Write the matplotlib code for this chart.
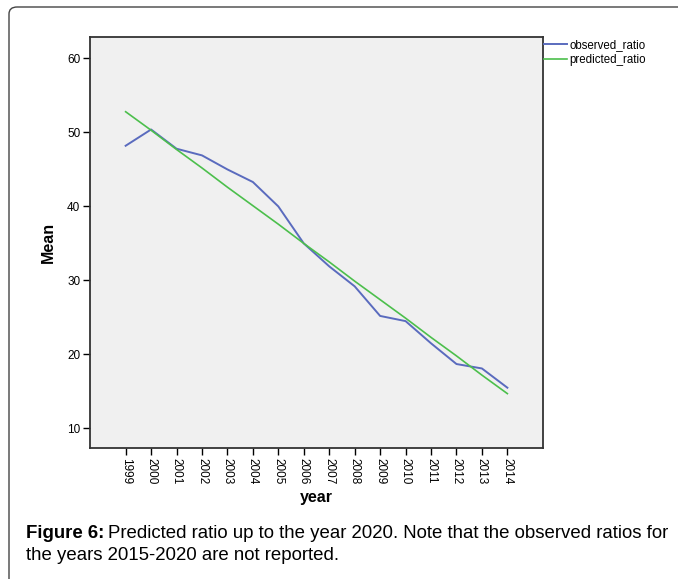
import matplotlib
matplotlib.use("Agg")
import matplotlib.pyplot as plt
from matplotlib.patches import FancyBboxPatch

plt.rcParams['font.family'] = ['Liberation Sans', 'DejaVu Sans']

# data
years = [1999, 2000, 2001, 2002, 2003, 2004, 2005, 2006,
         2007, 2008, 2009, 2010, 2011, 2012, 2013, 2014]
observed_ratio = [48.2, 50.4, 47.8, 46.9, 45.0, 43.3, 40.0, 35.0,
                  31.9, 29.2, 25.2, 24.5, 21.5, 18.7, 18.1, 15.5]
predicted_ratio = [52.8, 50.3, 47.7, 45.2, 42.6, 40.1, 37.6, 35.0,
                   32.5, 29.9, 27.4, 24.9, 22.3, 19.8, 17.2, 14.7]
y_ticks = [10, 20, 30, 40, 50, 60]

W, H = 678, 579
fig = plt.figure(figsize=(W / 100, H / 100), dpi=100)

# rounded frame round the figure
frame = FancyBboxPatch((9 / W, -0.05), 1.0, 1.05 - 7 / H,
                       boxstyle="round,pad=0,rounding_size=0.012",
                       transform=fig.transFigure, fill=False,
                       edgecolor="#444444", linewidth=1.0)
fig.patches.append(frame)

ax = fig.add_axes([90 / W, 1 - 448 / H, 453 / W, 411 / H])
ax.set_facecolor("#F0F0F0")

ax.plot(years, observed_ratio, color="#5A6BBE", linewidth=1.4, label="observed_ratio")
ax.plot(years, predicted_ratio, color="#4CBF4C", linewidth=1.2, label="predicted_ratio")

ax.set_xlim(1997.6, 2015.4)
ax.set_ylim(7.35, 62.9)
ax.set_xticks(years)
ax.set_xticklabels([str(y) for y in years], rotation=-90, fontsize=8.5)
ax.set_yticks(y_ticks)
ax.set_yticklabels([str(v) for v in y_ticks], fontsize=8.5)
ax.tick_params(direction="out", length=5, width=1, color="black", pad=2)

for s in ax.spines.values():
    s.set_color("#333333")
    s.set_linewidth(1.3)

ax.set_xlabel("year", fontsize=11.5, fontweight="bold", labelpad=4)
ax.set_ylabel("Mean", fontsize=11.5, fontweight="bold", labelpad=8)

fig.legend(loc="upper left", bbox_to_anchor=(544 / W, 1 - 39 / H),
           frameon=False, fontsize=8.3, handlelength=2.0, handletextpad=0.2,
           labelspacing=0.25, borderaxespad=0, borderpad=0)

# caption: bold label followed by plain text
cap_size = 13.4
t1 = fig.text(26 / W, 1 - 534 / H, "Figure 6:", fontsize=cap_size,
              fontweight="bold", va="center", ha="left")
fig.canvas.draw()
bb = t1.get_window_extent()
fig.text((bb.x1 + 4) / W, 1 - 534 / H,
         "Predicted ratio up to the year 2020. Note that the observed ratios for",
         fontsize=cap_size, va="center", ha="left")
fig.text(26 / W, 1 - 556 / H, "the years 2015-2020 are not reported.",
         fontsize=cap_size, va="center", ha="left")

fig.savefig("out.png", dpi=100)
